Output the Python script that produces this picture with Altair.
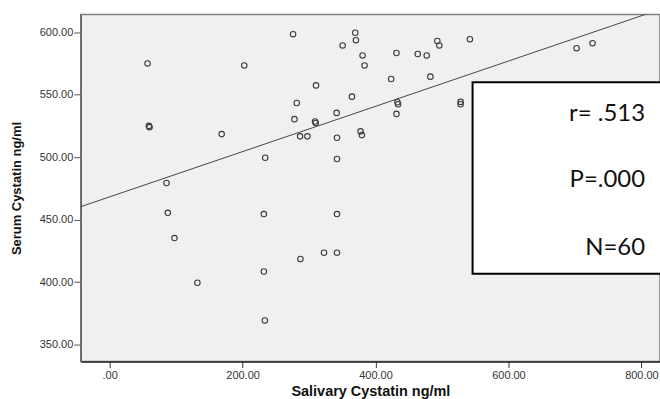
import altair as alt
import pandas as pd

# Salivary vs. serum cystatin (ng/ml), one circle per subject
salivary = [57, 59, 60, 168.5, 85.5, 276, 202.5, 369.5, 370.5, 350.5,
            380.5, 383.5, 310.5, 281.5, 364.5, 278, 309, 310, 341.5, 286.5,
            297.5, 342, 377.5, 379.5, 342, 234, 493, 496, 542, 431.5,
            463.5, 477, 423.5, 482.5, 433, 434, 431.5, 528, 528, 702.5,
            726.5, 87.5, 97.5, 132, 232, 342, 287, 322.5, 342, 232,
            233.5]
serum = [575, 525, 524, 518.4, 479.3, 598.4, 573.4, 599.5, 593.6, 589.4,
         581.4, 573.4, 557.4, 543.3, 548.4, 530.4, 528.5, 527.3, 535.4, 516.6,
         516.6, 515.5, 520.6, 517.6, 498.5, 499.5, 592.9, 589.4, 594.4, 583.3,
         582.5, 581.4, 562.5, 564.4, 543.9, 542.3, 534.6, 544.2, 542.3, 587.2,
         591.2, 455.4, 435.2, 399.4, 454.4, 454.4, 418.5, 423.5, 423.5, 408.4,
         369.3]

# Linear fit line (full sample), given by its two end points
fit_x = [-43.5, 828]
fit_y = [460.3, 618.2]

x_ticks = [0, 200, 400, 600, 800]
y_ticks = [350, 400, 450, 500, 550, 600]
stats_lines = ["r= .513", "P=.000", "N=60"]

df = pd.DataFrame({"salivary": salivary, "serum": serum})
fit_df = pd.DataFrame({"salivary": fit_x, "serum": fit_y})

x_dom = [-43.5, 828]
y_dom = [336.4, 614.1]

label_expr = "datum.value == 0 ? '.00' : format(datum.value, '.2f')"

x_enc = alt.X(
    "salivary:Q",
    scale=alt.Scale(domain=x_dom, nice=False, zero=False),
    axis=alt.Axis(
        values=x_ticks, labelExpr=label_expr, grid=False,
        title="Salivary Cystatin ng/ml", titleFontWeight="bold",
        titleFontSize=14.5, titleColor="#111", titlePadding=4,
        labelFontSize=11, labelColor="#333", labelPadding=2,
        tickSize=6, tickColor="#333", domainColor="#222", domainWidth=1.5,
        labelFlush=False,
    ),
)
y_enc = alt.Y(
    "serum:Q",
    scale=alt.Scale(domain=y_dom, nice=False, zero=False),
    axis=alt.Axis(
        values=y_ticks, labelExpr=label_expr, grid=False,
        title="Serum Cystatin ng/ml", titleFontWeight="bold",
        titleFontSize=13, titleColor="#111", titlePadding=16,
        labelFontSize=11, labelColor="#333", labelPadding=1,
        tickSize=7, tickColor="#555", domainColor="#666", domainWidth=1.5,
    ),
)

points = alt.Chart(df).mark_point(
    shape="circle", filled=False, size=30, strokeWidth=1.1, color="#3a3a3a", opacity=1
).encode(x=x_enc, y=y_enc)

fit = alt.Chart(fit_df).mark_line(color="#444", strokeWidth=1, clip=True).encode(
    x="salivary:Q", y="serum:Q"
)

one_row = alt.Chart(pd.DataFrame({"k": [0]}))

box = one_row.mark_rect(fill="white", stroke="black", strokeWidth=2).encode(
    x=alt.value(393), x2=alt.value(610), y=alt.value(68), y2=alt.value(260)
)

baselines = [107, 173, 241]
texts = [
    one_row.mark_text(
        text=t, align="right", baseline="alphabetic", font="Lato",
        fontSize=24, color="#111"
    ).encode(x=alt.value(566), y=alt.value(b))
    for t, b in zip(stats_lines, baselines)
]

chart = alt.layer(points, fit, box, *texts).properties(
    width=581, height=348,
    autosize=alt.AutoSizeParams(type="none"),
    padding={"left": 81, "top": 14, "right": 0, "bottom": 37},
    background="white",
).configure_view(
    fill="#f0f0f0", stroke="#808080", strokeWidth=1.5
).configure_axis(
    labelFont="Liberation Sans", titleFont="Liberation Sans"
)

chart.save("out.html", embed_options={"renderer": "svg", "actions": False})
